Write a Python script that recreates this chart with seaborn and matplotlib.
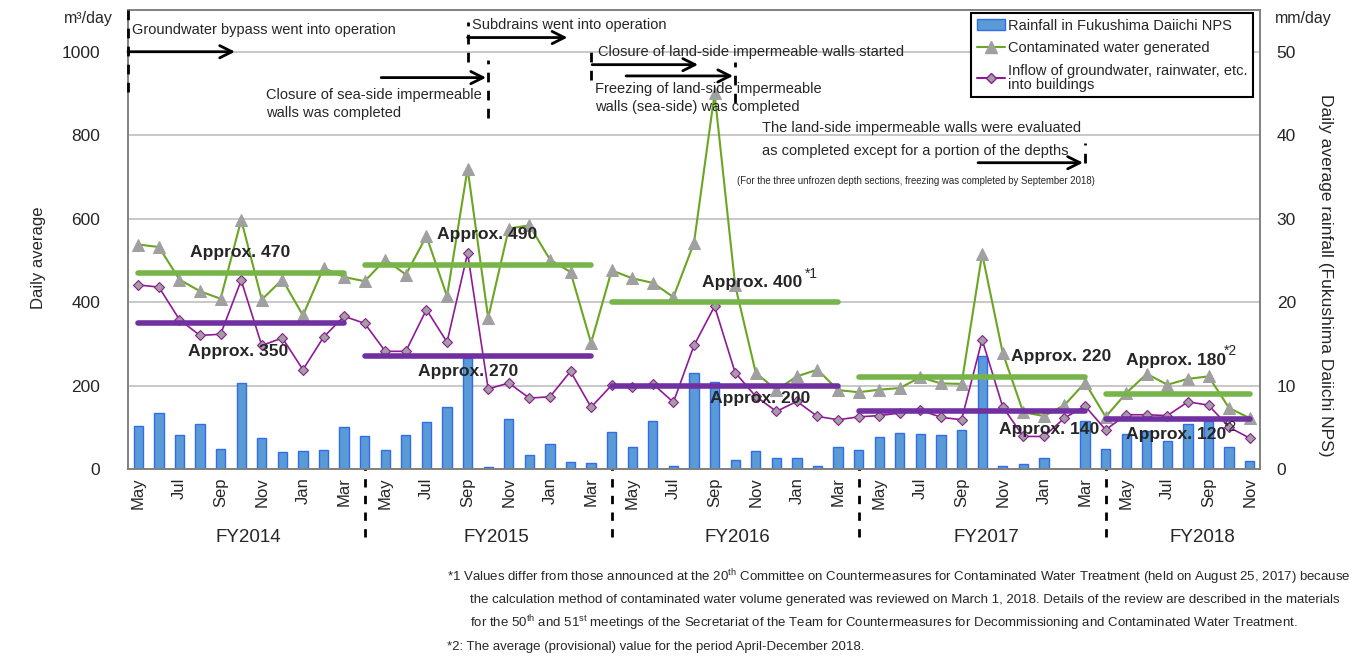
import numpy as np
import pandas as pd
import matplotlib
matplotlib.use("Agg")
import matplotlib.pyplot as plt
from matplotlib.patches import Patch
from matplotlib.lines import Line2D
import seaborn as sns

# month labels, May 2014 .. Nov 2018
months = (['May', 'Jun', 'Jul', 'Aug', 'Sep', 'Oct', 'Nov', 'Dec', 'Jan', 'Feb', 'Mar']
          + ['Apr', 'May', 'Jun', 'Jul', 'Aug', 'Sep', 'Oct', 'Nov', 'Dec', 'Jan', 'Feb', 'Mar'] * 3
          + ['Apr', 'May', 'Jun', 'Jul', 'Aug', 'Sep', 'Oct', 'Nov'])
shown_months = ['May', 'Jul', 'Sep', 'Nov', 'Jan', 'Mar']

# rainfall, mm/day
rain = [5.1, 6.7, 4.1, 5.4, 2.4, 10.3, 3.7, 2.0, 2.1, 2.3, 5.0,
        4.0, 2.3, 4.1, 5.6, 7.4, 13.3, 0.2, 6.0, 1.7, 3.0, 0.8, 0.7,
        4.4, 2.6, 5.8, 0.4, 11.5, 10.4, 1.1, 2.1, 1.3, 1.3, 0.4, 2.6,
        2.3, 3.8, 4.3, 4.2, 4.1, 4.7, 13.5, 0.4, 0.6, 1.3, 0.0, 5.7,
        2.4, 4.2, 4.5, 3.4, 5.4, 5.8, 2.6, 1.0]

# contaminated water generated, m3/day
generated = [538, 532, 454, 426, 408, 597, 406, 454, 368, 482, 460,
             450, 502, 466, 558, 414, 720, 362, 576, 584, 502, 472, 302,
             476, 457, 446, 412, 542, 900, 440, 231, 189, 222, 238, 189,
             184, 190, 194, 220, 205, 204, 516, 278, 136, 127, 153, 207,
             125, 182, 228, 202, 216, 222, 146, 122]

# inflow of groundwater, rainwater etc. into buildings, m3/day
inflow = [441, 436, 358, 320, 323, 452, 296, 314, 238, 316, 366,
          349, 282, 282, 382, 304, 517, 192, 206, 170, 173, 234, 148,
          201, 196, 204, 160, 296, 390, 231, 174, 138, 162, 126, 118,
          125, 128, 134, 141, 124, 118, 310, 149, 78, 78, 122, 151,
          94, 130, 130, 128, 161, 153, 100, 74]

fiscal_years = ['FY2014', 'FY2015', 'FY2016', 'FY2017', 'FY2018']
fy_first = [0, 11, 23, 35, 47]
fy_last = [10, 22, 34, 46, 54]
avg_generated = [470, 490, 400, 220, 180]
avg_inflow = [350, 270, 200, 140, 120]

idx = np.arange(len(months))
df = pd.DataFrame({'idx': idx, 'month': months, 'rain': rain,
                   'generated': generated, 'inflow': inflow})

sns.set_theme(style='white')
plt.rcParams['font.family'] = ['Liberation Sans', 'DejaVu Sans']
plt.rcParams['mathtext.fontset'] = 'custom'
plt.rcParams['mathtext.rm'] = 'Liberation Sans'

GREEN = '#6AA622'
GREEN_AVG = '#77B54A'
PURPLE = '#8E1A96'
PURPLE_AVG = '#7030A0'
MARK = '#A0A0A0'
BAR = '#5B9BD5'
BAR_EDGE = '#2F6CF2'

fig = plt.figure(figsize=(13.66, 6.58), dpi=100)
ax = fig.add_axes([128 / 1366, 1 - 469 / 658, 1132 / 1366, 459 / 658])
ax2 = ax.twinx()
ax.set_zorder(2)
ax2.set_zorder(1)
ax.patch.set_visible(False)

# rainfall bars on right axis
sns.barplot(data=df, x='idx', y='rain', ax=ax2, color=BAR, width=0.45,
            edgecolor=BAR_EDGE, linewidth=1, saturation=1)
ax2.set_ylim(0, 55)
ax2.set_yticks([0, 10, 20, 30, 40, 50])
ax2.yaxis.grid(True, color='#BFBFBF', linewidth=1.2)
ax2.set_axisbelow(True)
ax2.set_ylabel('')
ax2.set_xlabel('')

# monthly lines
sns.lineplot(data=df, x='idx', y='generated', ax=ax, color=GREEN, linewidth=1.5,
             marker='^', markersize=8, markerfacecolor=MARK, markeredgecolor=MARK)
sns.lineplot(data=df, x='idx', y='inflow', ax=ax, color=PURPLE, linewidth=1.2,
             marker='D', markersize=5, markerfacecolor=MARK, markeredgecolor=PURPLE,
             markeredgewidth=0.8)

# fiscal-year averages
ax.hlines(avg_generated, fy_first, fy_last, colors=GREEN_AVG, linewidth=4, capstyle='round', zorder=2.5)
ax.hlines(avg_inflow, fy_first, fy_last, colors=PURPLE_AVG, linewidth=4, capstyle='round', zorder=2.5)

lab = dict(fontsize=12.6, fontweight='bold', va='center', ha='left', zorder=4)
sup = dict(fontsize=10, va='center', ha='left', zorder=4)
ax.text(2.5, 518, 'Approx. 470', **lab)
ax.text(2.4, 281, 'Approx. 350', **lab)
ax.text(14.5, 561, 'Approx. 490', **lab)
ax.text(13.6, 233, 'Approx. 270', **lab)
ax.text(27.4, 446, 'Approx. 400', **lab)
ax.text(32.4, 468, '*1', **sup)
ax.text(27.8, 168, 'Approx. 200', **lab)
ax.text(42.4, 269, 'Approx. 220', **lab)
ax.text(41.8, 94, 'Approx. 140', **lab)
ax.text(48.0, 259, 'Approx. 180', **lab)
ax.text(52.75, 282, '*2', **sup)
ax.text(48.0, 82, 'Approx. 120', **lab)
ax.text(52.75, 100, '*2', **sup)

# axes ranges / ticks
ax.set_ylim(0, 1100)
ax.set_yticks([0, 200, 400, 600, 800, 1000])
ax.set_xlim(-0.5, 54.5)
tick_pos = [i for i, m in enumerate(months) if m in shown_months]
ax.set_xticks(tick_pos)
ax.set_xticklabels([months[i] for i in tick_pos], rotation=90, fontsize=12)
ax.set_xticks(np.arange(-0.5, 54.6, 1), minor=True)
ax.tick_params(axis='x', which='major', length=0, pad=6)
ax.tick_params(axis='x', which='minor', direction='in', length=5, color='#A6A6A6', width=1)
ax.tick_params(axis='y', length=0, pad=20, labelsize=12.5)
ax2.tick_params(axis='y', length=0, pad=12, labelsize=12.5)
ax2.tick_params(axis='x', which='both', length=0)
ax.set_xlabel('')
ax.set_ylabel('')
for a in (ax, ax2):
    for s in a.spines.values():
        s.set_color('#808080')
        s.set_linewidth(1.2)

# fiscal year labels and separators
fy_centre = [5.35, 17.4, 29.1, 41.2, 51.7]
for name, xc in zip(fiscal_years, fy_centre):
    ax.text(xc, -165, name, fontsize=13.5, ha='center', va='center', clip_on=False)
ax.vlines(fy_first[1:], -163, 0, colors='black', linestyles=(0, (3, 3)), linewidth=2, clip_on=False)

# event markers
dash = dict(colors='black', linestyles=(0, (3.5, 3)), linewidth=2, clip_on=False, zorder=5)
arrow = dict(arrowstyle='->', color='black', lw=2, mutation_scale=22, shrinkA=0, shrinkB=0)
ev = dict(fontsize=10.5, ha='left', va='center', zorder=5)

ax.vlines(-0.5, 904, 1100, **dash)
ax.annotate('', xy=(4.7, 1000), xytext=(-0.5, 1000), arrowprops=arrow)
ax.text(-0.3, 1053, 'Groundwater bypass went into operation', **ev)

ax.vlines(16, 976, 1072, **dash)
ax.annotate('', xy=(20.85, 1034), xytext=(16, 1034), arrowprops=arrow)
ax.text(16.2, 1065, 'Subdrains went into operation', **ev)

ax.vlines(17, 842, 981, **dash)
ax.annotate('', xy=(16.9, 938), xytext=(11.8, 938), arrowprops=arrow)
ax.text(6.2, 897, 'Closure of sea-side impermeable', **ev)
ax.text(6.2, 854, 'walls was completed', **ev)

ax.vlines(22, 933, 1005, **dash)
ax.annotate('', xy=(27.2, 969), xytext=(22.05, 969), arrowprops=arrow)
ax.text(22.35, 1000, 'Closure of land-side impermeable walls started', **ev)

ax.vlines(29, 878, 976, **dash)
ax.annotate('', xy=(28.9, 942), xytext=(23.7, 942), arrowprops=arrow)
ax.text(22.2, 910, 'Freezing of land-side impermeable', **ev)
ax.text(22.2, 868, 'walls (sea-side) was completed', **ev)

ax.vlines(46, 734, 782, **dash)
ax.annotate('', xy=(45.9, 734), xytext=(40.8, 734), arrowprops=arrow)
ax.text(30.3, 817, 'The land-side impermeable walls were evaluated', **ev)
ax.text(30.3, 762, 'as completed except for a portion of the depths', **ev)
ax.text(29.1, 691, '(For the three unfrozen depth sections, freezing was completed by September 2018)',
        fontsize=6.9, ha='left', va='center', zorder=5)

# legend
handles = [Patch(facecolor=BAR, edgecolor=BAR_EDGE),
           Line2D([], [], color=GREEN, marker='^', markersize=8, markerfacecolor=MARK, markeredgecolor=MARK),
           Line2D([], [], color=PURPLE, marker='D', markersize=5, markerfacecolor=MARK, markeredgecolor=PURPLE)]
labels = ['Rainfall in Fukushima Daiichi NPS', 'Contaminated water generated',
          'Inflow of groundwater, rainwater, etc.\ninto buildings']
leg = ax.legend(handles, labels, loc='upper right', bbox_to_anchor=(0.994, 0.994), fontsize=10.5,
                frameon=True, fancybox=False, framealpha=1, edgecolor='black', handlelength=1.9,
                handletextpad=0.2, labelspacing=0.6, borderpad=0.4, borderaxespad=0)
leg.get_frame().set_linewidth(1.5)
leg.set_zorder(6)
for t in leg.get_texts():
    t.set_linespacing(0.95)

# axis titles
fig.text(88 / 1366, 1 - 18 / 658, 'm³/day', fontsize=11.5, ha='center', va='center')
fig.text(1303 / 1366, 1 - 18 / 658, 'mm/day', fontsize=11.5, ha='center', va='center')
fig.text(38 / 1366, 1 - 258 / 658, 'Daily average', fontsize=12, rotation=90, ha='center', va='center')
fig.text(1325 / 1366, 1 - 275 / 658, 'Daily average rainfall (Fukushima Daiichi NPS)', fontsize=12.5,
         rotation=-90, ha='center', va='center')

# footnotes
fn = dict(fontsize=9.5, ha='left', va='center')
fig.text(447 / 1366, 1 - 577 / 658,
         '*1 Values differ from those announced at the 20$^{\\mathrm{th}}$ Committee on Countermeasures for '
         'Contaminated Water Treatment (held on August 25, 2017) because', **fn)
fig.text(470 / 1366, 1 - 600 / 658,
         'the calculation method of contaminated water volume generated was reviewed on March 1, 2018. '
         'Details of the review are described in the materials', **fn)
fig.text(470 / 1366, 1 - 623 / 658,
         'for the 50$^{\\mathrm{th}}$ and 51$^{\\mathrm{st}}$ meetings of the Secretariat of the Team for '
         'Countermeasures for Decommissioning and Contaminated Water Treatment.', **fn)
fig.text(447 / 1366, 1 - 647 / 658,
         '*2: The average (provisional) value for the period April-December 2018.', **fn)

fig.savefig('out.png', dpi=100)
